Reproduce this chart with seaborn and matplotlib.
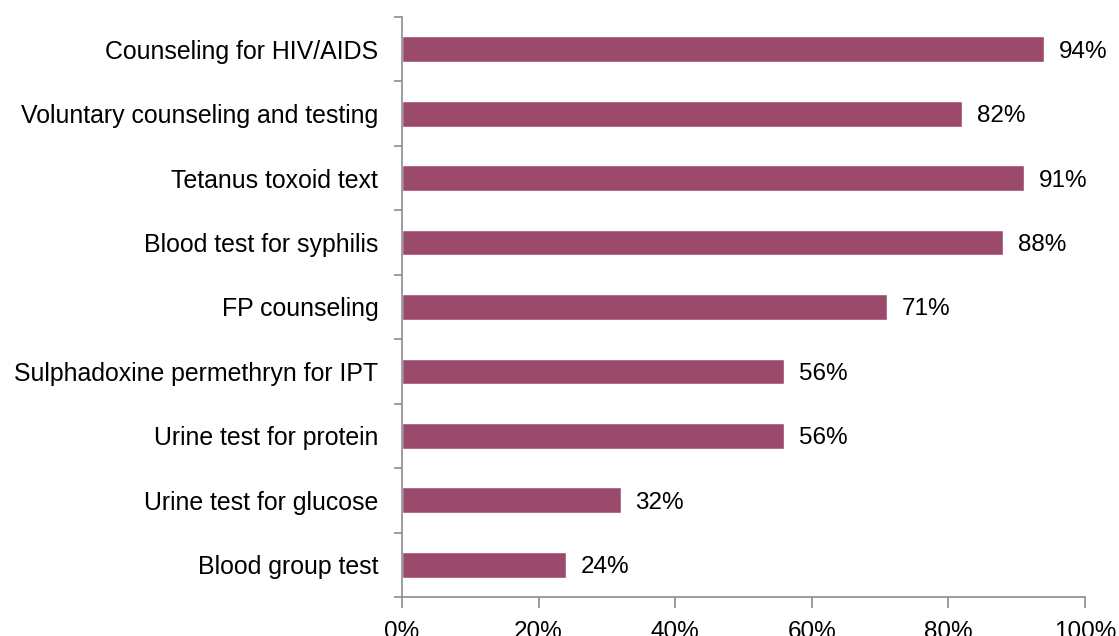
import pandas as pd
import matplotlib.pyplot as plt
import seaborn as sns
from matplotlib.ticker import FixedLocator, PercentFormatter

services = [
    "Counseling for HIV/AIDS",
    "Voluntary counseling and testing",
    "Tetanus toxoid text",
    "Blood test for syphilis",
    "FP counseling",
    "Sulphadoxine permethryn for IPT",
    "Urine test for protein",
    "Urine test for glucose",
    "Blood group test",
]
percent = [94, 82, 91, 88, 71, 56, 56, 32, 24]

df = pd.DataFrame({"service": services, "percent": percent})

sns.set_style("white")
plt.rcParams["font.family"] = ["Liberation Sans", "DejaVu Sans"]

fig = plt.figure(figsize=(11.19, 6.36), dpi=100)
ax = fig.add_axes([0.3592, 0.0613, 0.6104, 0.912])

sns.barplot(data=df, y="service", x="percent", orient="h", color="#9C4A6B",
            width=0.4, saturation=1, ax=ax)

# value labels to the right of each bar
for i, v in enumerate(percent):
    ax.text(v + 2.2, i, f"{v}%", va="center_baseline", ha="left", fontsize=17.5, color="black")

ax.set_xlim(0, 100)
ax.set_ylim(len(services) - 0.5, -0.5)
ax.set_xticks(range(0, 101, 20))
ax.xaxis.set_major_formatter(PercentFormatter(decimals=0))
ax.yaxis.set_minor_locator(FixedLocator([i - 0.5 for i in range(len(services) + 1)]))
ax.tick_params(axis="y", which="major", length=0, pad=17, labelsize=17.9, labelcolor="black")
ax.tick_params(axis="y", which="minor", length=6, color="#8c8c8c", width=1.2, left=True)
ax.tick_params(axis="x", length=8, color="#8c8c8c", width=1.2, bottom=True, pad=9,
               labelsize=17.5, labelcolor="black")
ax.set_xlabel("")
ax.set_ylabel("")

for side in ["top", "right"]:
    ax.spines[side].set_visible(False)
for side in ["left", "bottom"]:
    ax.spines[side].set_color("#8c8c8c")
    ax.spines[side].set_linewidth(1.2)

fig.savefig("out.png", dpi=100)
